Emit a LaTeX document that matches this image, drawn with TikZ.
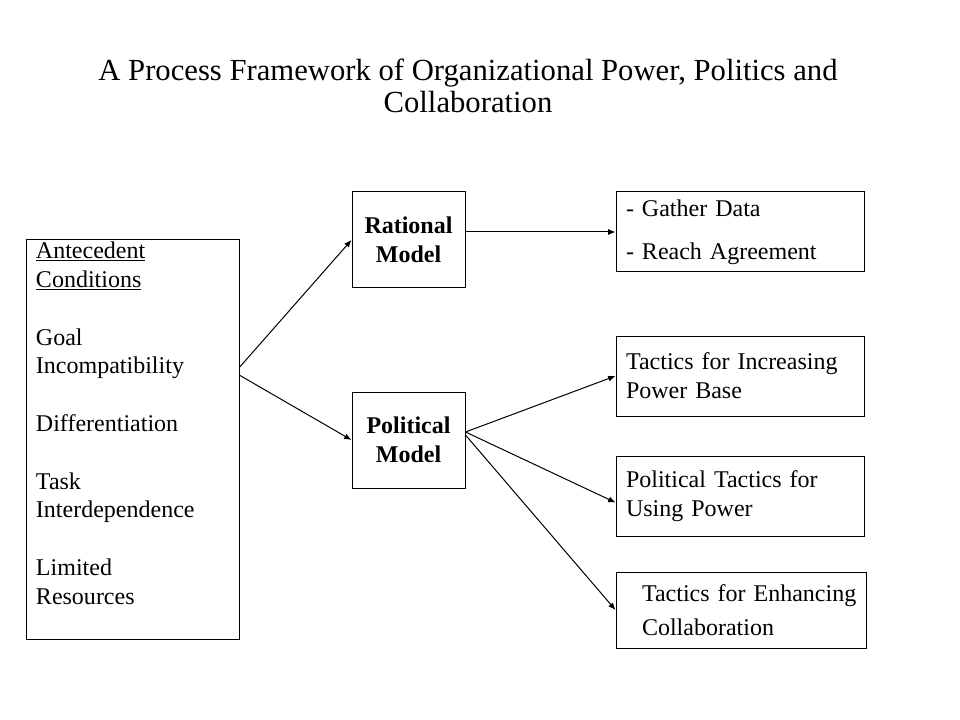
\documentclass[tikz,border=0pt]{standalone}
\usepackage{fontspec}
\setmainfont{Liberation Serif}
\usetikzlibrary{arrows.meta}

\begin{document}
\begin{tikzpicture}[x=0.75pt,y=-0.75pt,line width=0.75pt,>={Latex[length=5.5pt,width=4.5pt]},
  box/.style={draw,inner sep=0pt,font=\fontsize{18}{21.6}\selectfont},
  model/.style={box,minimum width=84.75pt,minimum height=72pt,align=center,font=\fontsize{18}{21.6}\selectfont\bfseries},
  outcome/.style={box,minimum width=186pt,minimum height=60pt,inner xsep=7.5pt,text width=171pt,align=left}]
  \useasboundingbox (0,0) rectangle (960,720);
  \node[font=\fontsize{23}{24}\selectfont,align=center] (title) at (468,86) {A Process Framework of Organizational Power, Politics and\\Collaboration};
  % antecedents
  \node[box,minimum width=159.75pt,minimum height=299.25pt] (cond) at (132.5,439.5) {};
  \node[anchor=north west,inner sep=0pt,align=left,font=\fontsize{18}{21.6}\selectfont] (condtext) at ([xshift=7.5pt,yshift=-1.5pt]cond.north west)
    {\underline{Antecedent}\\\underline{Conditions}\\[21.6pt]Goal\\Incompatibility\\[21.6pt]Differentiation\\[21.6pt]Task\\Interdependence\\[21.6pt]Limited\\Resources};
  % models
  \node[model] (rat) at (408.5,240) {Rational\\Model};
  \node[model] (pol) at (408.5,440) {Political\\Model};
  % outcomes
  \node[outcome,font=\fontsize{18}{32}\selectfont] (gather) at (740,232) {- Gather Data\\- Reach Agreement};
  \node[outcome] (inc) at (740,376) {Tactics for Increasing\\Power Base};
  \node[outcome] (ptac) at (740,496) {Political Tactics for\\Using Power};
  \node[outcome,minimum width=187.5pt,minimum height=57pt,inner xsep=5pt,text width=177.5pt,font=\fontsize{18}{25}\selectfont] (enh) at (741,610)
    {\hspace*{14.5pt}\mbox{Tactics for Enhancing}\\\hspace*{14.5pt}Collaboration};
  \draw[->] (cond.34) -- (rat.west);\draw[->] (cond.31) -- (pol.west);
  \draw[->] (rat.east |- gather.west) -- (gather.west);
  \draw[->] (pol.8) -- (inc.west);\draw[->] (pol.8) -- (ptac.183);\draw[->] (pol.5) -- (enh.west);
\end{tikzpicture}
\end{document}
